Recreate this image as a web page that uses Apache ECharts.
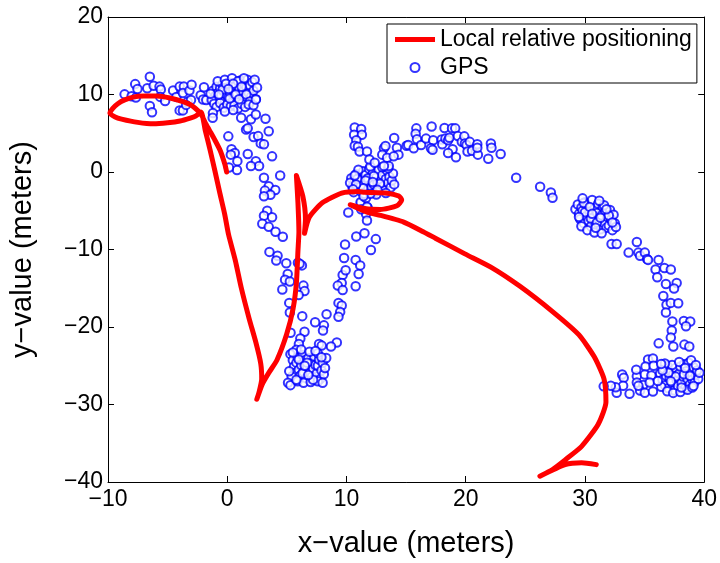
<!DOCTYPE html>
<html>
<head>
<meta charset="utf-8">
<script src="https://cdn.jsdelivr.net/npm/echarts@6/dist/echarts.min.js"></script>
<style>html,body{margin:0;padding:0;background:#fff}#chart{width:720px;height:563px}</style>
</head>
<body>
<div id="chart"></div>
<script>
// axis ticks
const xTicks = [-10, 0, 10, 20, 30, 40];
const yTicks = [-40, -30, -20, -10, 0, 10, 20];

// Local relative positioning path [x, y] in meters (in travel order)
const lrpPath = [
  [-0.05,0.0],[-0.2,1.0],[-0.6,2.8],[-1.03,4.1],[-1.5,5.4],[-1.84,6.34],[-2.1,7.2],[-2.25,7.6],
  [-3.0,8.6],[-3.72,9.07],[-4.8,9.55],[-5.92,9.81],[-7.0,9.8],[-7.8,9.69],[-8.6,9.3],[-9.18,8.8],[-9.6,8.2],[-9.84,7.58],
  [-9.4,7.1],[-8.86,6.83],[-7.5,6.4],[-6.17,6.21],[-5.0,6.35],[-3.96,6.58],[-3.1,6.95],[-2.66,7.2],[-2.2,7.75],
  [-1.84,5.34],[-1.44,2.86],[-1.03,0.12],[-0.62,-2.73],[-0.21,-5.47],[0.11,-8.07],[0.68,-11.43],[1.17,-14.9],
  [1.83,-18.88],[2.40,-21.99],[2.81,-24.72],[2.89,-26.71],[2.64,-28.57],[2.48,-29.32],
  [2.94,-27.37],[3.48,-25.92],[4.17,-24.26],[4.98,-20.95],[5.52,-17.64],[5.80,-14.32],[5.93,-10.19],[6.01,-7.7],[5.93,-3.98],[5.80,-0.46],
  [6.34,-3.14],[6.56,-6.05],[6.48,-7.91],
  [6.88,-5.84],[7.97,-3.98],[9.60,-2.73],[10.96,-2.52],[11.53,-2.61],[13.41,-2.73],[14.39,-3.11],[14.63,-3.60],[14.23,-4.35],
  [12.84,-4.84],[11.53,-4.72],[10.31,-4.22],
  [11.78,-5.22],[12.84,-5.59],[14.8,-6.46],[16.43,-7.70],[17.49,-8.57],[19.93,-10.56],[22.14,-12.30],[24.58,-14.78],
  [27.28,-18.01],[29.48,-20.99],[30.78,-23.85],[31.60,-26.71],[31.76,-29.69],[31.11,-32.55],[29.72,-35.40],
  [28.34,-37.14],[27.28,-38.39],[26.22,-39.25],[28.34,-37.76],[29.72,-37.52],[30.95,-37.76]
];

// GPS fixes [x, y] in meters, grouped by stretch of the route
const gpsWestArc = [
  [-8.61,10.02],[-8.02,9.78],[-7.66,9.60],[-7.72,11.34],[-7.53,10.72],[-6.49,12.30],[-6.71,10.81],[-6.17,11.14],
  [-5.68,11.02],[-5.57,10.65],[-5.62,9.69],[-5.21,9.16],[-6.49,8.53],[-6.31,7.70],[-4.54,10.52],[-3.99,11.02],
  [-3.64,11.02],[-4.27,9.69],[-3.72,10.19],[-3.17,10.52],[-2.99,11.27],[-3.31,9.07],[-3.04,9.28],[-3.99,7.95],
  [-3.72,7.95],[-3.45,8.66],[-2.23,9.90],[-1.95,10.93],[-2.03,9.35],[-1.76,9.28]
];
const gpsClusterA = [
  [-1.2,10.5],[-1.0,9.8],[-0.9,11.0],[-0.8,10.2],[-0.7,9.4],[-0.6,10.8],[-0.5,9.9],[-0.4,11.3],[-0.3,10.4],[-0.2,9.2],
  [-0.1,10.0],[0.0,10.9],[0.1,9.6],[0.2,10.3],[0.3,11.5],[0.4,9.0],[0.5,10.6],[0.6,9.8],[0.7,11.1],[0.8,10.1],
  [0.9,9.3],[1.0,10.7],[1.1,11.8],[1.2,9.9],[1.3,10.4],[1.4,11.4],[1.5,9.6],[1.6,10.9],[1.7,11.9],[1.8,10.2],
  [1.9,11.2],[2.0,9.7],[2.1,11.6],[2.2,10.5],[-1.3,9.3],[-1.1,8.8],[-0.9,8.4],[-0.6,8.9],[-0.3,8.3],[0.0,8.7],
  [0.3,8.5],[0.6,8.6],[0.9,8.2],[1.2,8.8],[1.5,8.4],[-0.8,11.7],[-0.2,11.9],[0.4,12.1],[0.9,11.7],[1.4,12.1],
  [2.3,11.9],[2.5,10.9],[2.4,9.4],[-1.4,10.1],[-0.4,10.6],[0.2,9.5],[0.7,10.0],[1.0,9.4],[1.6,10.0],[1.9,9.1],
  [-0.1,11.4],[0.5,11.4],[1.2,11.0],[-0.7,10.0],[0.1,10.7],[1.8,8.7],[-1.2,7.6],[-0.2,7.8],[0.5,8.0],[2.2,8.6]
];
const gpsDescent = [
  [-1.22,6.99],[1.17,6.99],[1.99,6.80],[2.40,9.35],[3.21,6.87],[2.40,7.42],[0.09,4.60],[1.58,5.47],[1.72,5.63],
  [2.21,4.51],[2.59,4.63],[3.48,5.25],[2.81,3.69],[3.08,3.57],[0.36,2.94],[0.63,2.45],[0.30,2.24],[0.85,1.40],
  [1.72,2.32],[2.40,1.40],[2.67,0.78],[1.99,0.78],[3.76,2.02],[0.82,0.25],[0.14,0.58],[3.08,-0.75],[4.44,-0.46],
  [3.48,-1.83],[3.16,-2.40],[4.03,-2.32],[3.62,-2.94],[3.08,-3.14],[3.35,-5.01],[3.08,-5.63],[3.76,-5.84],
  [2.94,-6.67],[3.48,-7.08],[4.05,-7.70],[4.66,-8.36],[3.54,-10.31],[4.22,-10.81],[4.11,-11.43],[4.95,-11.77],
  [5.93,-11.71],[6.26,-12.05],[5.07,-13.17],[4.85,-13.91],[5.25,-14.12],[4.62,-15.16],[6.39,-14.66],[6.48,-15.37],
  [5.99,-15.86],[5.20,-16.89],[5.25,-18.14],[6.29,-18.60],[5.31,-20.75],[6.48,-20.62],[6.13,-21.49],[6.01,-22.20],
  [7.37,-19.38],[8.11,-19.79],[8.03,-20.46],[8.33,-18.35],[5.80,-22.94],[9.19,-21.99],[8.70,-22.52],[7.70,-22.20],[7.92,-22.40]
];
const gpsClusterB = [
  [5.3,-23.5],[5.5,-24.3],[5.6,-25.1],[5.7,-25.9],[5.8,-24.6],[5.9,-23.9],[6.0,-25.5],[6.1,-26.3],[6.2,-24.9],[6.3,-23.6],
  [6.4,-25.8],[6.5,-24.3],[6.6,-26.6],[6.7,-25.2],[6.8,-24.0],[6.9,-25.9],[7.0,-24.7],[7.1,-26.4],[7.2,-25.4],[7.3,-23.8],
  [7.4,-24.9],[7.5,-26.0],[7.6,-25.0],[7.7,-24.2],[7.8,-26.7],[7.9,-25.6],[8.0,-24.6],[8.1,-26.1],[8.2,-25.3],[5.4,-26.4],
  [5.2,-25.7],[5.1,-27.2],[5.3,-27.5],[5.9,-27.0],[6.4,-27.2],[7.0,-27.1],[7.6,-27.0],[6.2,-22.9],[6.9,-23.2],[7.6,-23.4],
  [8.3,-24.0],[5.8,-26.8],[6.3,-26.0],[6.7,-24.6],[7.2,-26.8],[6.0,-24.2],[7.4,-23.1],[6.5,-25.0],[5.5,-23.3],[8.0,-27.2],
  [6.8,-26.2],[7.9,-23.9]
];
const gpsAscent = [
  [9.88,-9.35],[10.82,-8.32],[11.51,-7.91],[12.46,-8.66],[12.05,-10.06],[9.80,-11.09],[10.77,-11.34],[11.15,-12.05],
  [11.02,-13.17],[9.68,-13.29],[9.60,-14.32],[9.27,-14.66],[9.68,-15.24],[10.77,-14.75],[9.33,-16.89],[9.60,-17.23],
  [9.47,-18.05],[9.33,-18.67],[10.15,-5.22],[11.23,-3.98],[11.78,-4.60],[11.64,-5.43],[11.72,-6.25],[11.18,-3.89],
  [11.64,-3.35],[11.23,-4.80],[11.72,-4.47],[9.93,-12.67],[6.07,-11.84]
];
const gpsClusterC = [
  [10.4,-0.8],[10.5,-1.9],[10.7,-1.2],[10.8,-0.3],[10.9,-2.2],[11.0,-1.5],[11.1,-0.6],[11.2,-2.5],[11.3,-1.0],[11.4,0.1],
  [11.5,-1.8],[11.6,-0.4],[11.7,-2.3],[11.8,-1.3],[11.9,0.4],[12.0,-0.9],[12.1,-2.0],[12.2,-0.2],[12.3,-1.6],[12.4,-2.6],
  [12.5,-0.7],[12.6,-1.4],[12.7,0.3],[12.8,-2.1],[12.9,-1.0],[13.0,-0.4],[13.1,-1.8],[13.2,-2.4],[13.3,-0.9],[13.4,0.2],
  [13.5,-1.4],[13.6,-0.6],[13.7,-2.0],[13.8,-1.1],[13.9,-0.2],[14.0,-1.6],[10.6,-2.6],[11.0,0.3],[11.5,-2.8],[12.0,0.7],
  [12.5,-2.9],[13.0,0.6],[10.3,-1.4],[11.2,-1.7],[11.8,-0.8],[12.3,-0.5],[12.8,-1.5],[13.3,-2.7],[10.9,-0.9],[11.6,-1.1],
  [12.2,-1.3],[12.6,-2.3],[13.5,0.5],[11.4,-2.1],[10.8,-1.6],[12.0,-2.8]
];
const gpsNorthArc = [
  [10.69,5.75],[11.23,5.55],[10.64,4.81],[11.29,4.81],[10.82,4.10],[10.69,3.39],[10.96,3.27],[11.10,2.65],[11.72,2.65],
  [11.92,1.61],[12.37,1.20],[13.14,3.07],[13.27,3.35],[13.00,2.24],[13.41,1.83],[14.00,4.39],[14.23,3.14],[14.36,2.24],
  [13.96,2.02],[13.55,0.78],[13.14,0.78],[10.69,-0.46],[10.55,-2.24],[11.43,-3.14],
  [15.04,3.39],[15.18,3.48],[15.64,3.07],[15.86,5.63],[15.80,4.93],[15.91,4.22],[16.26,3.48],[16.67,4.31],[17.14,5.88],
  [17.27,4.10],[17.08,3.07],[17.22,2.86],[17.98,4.19],[18.22,5.68],[18.03,3.57],[18.30,4.31],[18.52,4.10],[18.63,4.43],
  [18.85,5.63],[19.12,5.63],[18.90,2.94],[18.52,2.45],[19.18,1.90],[19.34,4.63],[19.67,3.89],[19.88,4.60],[19.93,3.69],
  [20.07,3.48],[20.15,2.65],[20.34,3.89],[20.53,2.73],[20.97,3.57],[21.02,2.24],[20.97,3.14],[21.89,1.70],[22.11,3.69],
  [22.16,3.14],[22.93,2.32],[24.23,-0.75],[26.24,-1.90],[27.14,-2.65],[27.28,-3.32]
];
const gpsClusterD = [
  [29.2,-4.8],[29.4,-4.2],[29.5,-5.4],[29.6,-6.1],[29.7,-4.6],[29.8,-5.0],[29.9,-6.6],[30.0,-3.9],[30.1,-5.7],[30.2,-4.4],
  [30.3,-6.3],[30.4,-5.1],[30.5,-7.0],[30.6,-3.6],[30.7,-5.9],[30.8,-4.7],[30.9,-6.8],[31.0,-5.3],[31.1,-4.1],[31.2,-6.2],
  [31.3,-7.4],[31.4,-5.6],[31.5,-4.5],[31.6,-6.6],[31.7,-5.0],[31.8,-7.2],[31.9,-5.8],[32.0,-6.9],[32.1,-4.9],[32.2,-6.1],
  [32.3,-7.5],[32.4,-5.5],[32.5,-6.6],[32.6,-7.1],[29.7,-7.0],[30.2,-7.5],[30.8,-7.8],[31.4,-7.9],[30.0,-5.2],[30.5,-6.0],
  [31.0,-6.5],[31.6,-4.3],[32.0,-5.6],[29.9,-4.0],[30.4,-4.5],[31.2,-3.7],[31.8,-4.8],[30.6,-5.4],[31.3,-5.9],[29.5,-5.8],
  [30.9,-7.2],[32.3,-6.5],[29.8,-3.4]
];
const gpsEastDescent = [
  [32.23,-9.28],[32.66,-9.28],[33.66,-10.40],[34.35,-9.03],[34.48,-10.40],[34.62,-10.81],[35.02,-10.40],[35.21,-11.22],
  [35.29,-11.34],[36.17,-11.34],[35.92,-12.59],[36.06,-13.58],[36.66,-12.38],[37.20,-12.59],[36.79,-14.45],[37.69,-14.32],
  [37.47,-15.03],[36.57,-15.99],[36.84,-17.14],[37.20,-16.89],[37.82,-16.93],[36.79,-18.14],[37.33,-19.29],[38.29,-19.22],
  [38.83,-19.29],[38.47,-19.91],[37.28,-20.46],[37.20,-21.37],[37.41,-22.52],[36.18,-22.11],[38.34,-22.27],[38.75,-22.52]
];
const gpsClusterE = [
  [36.3,-26.0],[36.5,-26.8],[36.6,-25.4],[36.7,-27.5],[36.8,-26.3],[36.9,-25.0],[37.0,-27.9],[37.1,-26.6],[37.2,-25.7],[37.3,-27.2],
  [37.4,-26.1],[37.5,-28.2],[37.6,-25.3],[37.7,-26.9],[37.8,-27.6],[37.9,-26.0],[38.0,-25.1],[38.1,-27.2],[38.2,-26.4],[38.3,-24.8],
  [38.4,-27.9],[38.5,-25.7],[38.6,-26.7],[38.7,-24.6],[38.8,-27.4],[38.9,-25.9],[39.0,-26.8],[39.1,-25.2],[39.2,-27.1],[39.3,-26.2],
  [39.4,-25.6],[39.5,-26.7],[39.6,-25.9],[36.4,-27.7],[36.9,-28.3],[37.4,-28.5],[38.0,-28.4],[38.6,-28.1],[39.0,-27.8],[37.3,-24.9],
  [37.9,-24.5],[38.9,-24.3],[39.3,-24.9],[36.7,-24.7],[37.6,-26.4],[38.3,-26.1],[38.8,-26.3],[37.0,-25.9],[38.4,-25.3],[39.1,-27.6],
  [36.5,-25.6],[37.2,-27.0],[38.1,-27.8]
];
const gpsSouthWest = [
  [35.29,-24.19],[35.70,-24.07],[35.08,-25.09],[35.76,-25.01],[36.39,-24.76],[34.35,-26.34],[35.02,-26.13],[35.57,-26.25],
  [34.35,-27.17],[34.89,-27.49],[35.43,-27.17],[36.11,-26.96],[34.62,-28.20],[35.02,-28.48],[35.70,-28.32],[33.12,-26.13],
  [33.25,-26.54],[33.20,-27.58],[33.74,-28.61],[32.66,-28.48],[32.58,-27.79],[32.17,-27.58],[31.57,-27.66],[34.30,-25.50],[34.48,-27.58]
];

const gpsAll = [].concat(gpsWestArc, gpsClusterA, gpsDescent, gpsClusterB, gpsAscent,
  gpsClusterC, gpsNorthArc, gpsClusterD, gpsEastDescent, gpsClusterE, gpsSouthWest);

const FONT = 'Liberation Sans, Arial, Helvetica, sans-serif';
const minus = v => String(v).replace('-', '\u2212');

const chart = echarts.init(document.getElementById('chart'), null, {renderer: 'canvas'});
const axisCommon = {
  type: 'value',
  axisLine: {show: true, onZero: false, lineStyle: {color: '#000', width: 1}},
  axisTick: {show: true, inside: true, length: 6, lineStyle: {color: '#000', width: 1}},
  splitLine: {show: false}
};
chart.setOption({
  animation: false,
  backgroundColor: '#fff',
  grid: {left: 93, right: 14, top: 17, bottom: 63, containLabel: false},
  legend: {
    left: 387, top: 24, orient: 'vertical',
    backgroundColor: '#fff', borderColor: '#000', borderWidth: 1,
    padding: [4, 5, 4, 8], itemGap: 5, itemWidth: 40, itemHeight: 9,
    symbolKeepAspect: true,
    textStyle: {fontFamily: FONT, fontSize: 23, color: '#000'},
    data: [
      {name: 'Local relative positioning', icon: 'path://M0,0L40,0L40,5L0,5Z', itemStyle: {color: '#ff0000'}},
      {name: 'GPS'}
    ]
  },
  xAxis: [
    Object.assign({}, axisCommon, {
      min: xTicks[0], max: xTicks[xTicks.length - 1], interval: 10, position: 'bottom',
      axisLabel: {formatter: minus, fontFamily: FONT, fontSize: 23, color: '#000', margin: 6},
      name: 'x\u2212value (meters)', nameLocation: 'middle', nameGap: 47,
      nameTextStyle: {fontFamily: FONT, fontSize: 29, color: '#000'}
    }),
    Object.assign({}, axisCommon, {
      min: xTicks[0], max: xTicks[xTicks.length - 1], interval: 10, position: 'top',
      axisLabel: {show: false}
    })
  ],
  yAxis: [
    Object.assign({}, axisCommon, {
      min: yTicks[0], max: yTicks[yTicks.length - 1], interval: 10, position: 'left',
      axisLabel: {formatter: minus, fontFamily: FONT, fontSize: 23, color: '#000', margin: 5},
      name: 'y\u2212value (meters)', nameLocation: 'middle', nameGap: 71, nameRotate: 90,
      nameTextStyle: {fontFamily: FONT, fontSize: 29, color: '#000'}
    }),
    Object.assign({}, axisCommon, {
      min: yTicks[0], max: yTicks[yTicks.length - 1], interval: 10, position: 'right',
      axisLabel: {show: false}
    })
  ],
  series: [
    {
      name: 'Local relative positioning', type: 'line', xAxisIndex: 0, yAxisIndex: 0,
      data: lrpPath, showSymbol: false, symbol: 'none', smooth: 0.2,
      lineStyle: {color: '#ff0000', width: 5, cap: 'round', join: 'round'},
      itemStyle: {color: '#ff0000'}
    },
    {
      name: 'GPS', type: 'scatter', xAxisIndex: 0, yAxisIndex: 0,
      data: gpsAll, symbol: 'emptyCircle', symbolSize: 8.5,
      itemStyle: {color: '#0000ff', borderColor: '#0000ff', borderWidth: 1.1}
    }
  ]
});
</script>
</body>
</html>
